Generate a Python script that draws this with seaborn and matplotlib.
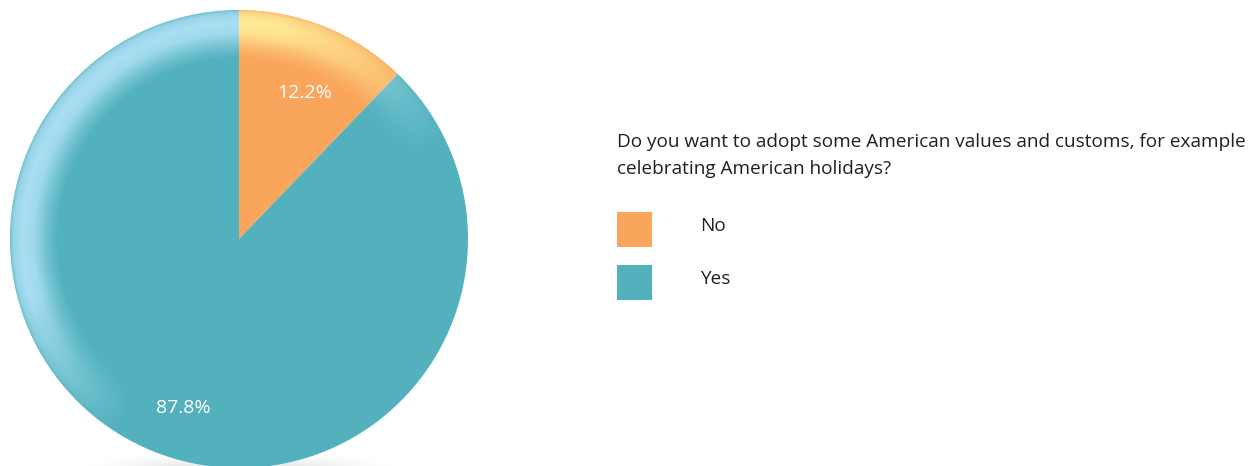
import numpy as np
import matplotlib
matplotlib.use("Agg")
import matplotlib.pyplot as plt
import seaborn as sns
from matplotlib.patches import Rectangle, Wedge
from matplotlib.legend_handler import HandlerPatch

# Survey answers
answers = ["No", "Yes"]
shares = [12.2, 87.8]
slice_colors = ["#f9a55b", "#52b1bd"]
glint_colors = ["#feeb96", "#aadff3"]
question_lines = [
    "Do you want to adopt some American values and customs, for example",
    "celebrating American holidays?",
]

sns.set_theme(style="white")
plt.rcParams["font.family"] = ["Open Sans", "DejaVu Sans"]

W, H = 1258, 466
DPI = 100
fig = plt.figure(figsize=(W / DPI, H / DPI), dpi=DPI)
fig.patch.set_facecolor("white")

# Pie axes: centre (239, 239) px from the top-left, radius 229 px
cx, cy, R = 239, 239, 229
ax = fig.add_axes([(cx - R) / W, (H - cy - R) / H, 2 * R / W, 2 * R / H])
wedges, _ = ax.pie(
    shares,
    colors=slice_colors,
    startangle=90,
    counterclock=False,
    radius=1.0,
    wedgeprops=dict(linewidth=0, antialiased=True),
)
for w in wedges:
    w.set_clip_on(False)
    w.set_zorder(2)

# Glossy rim on the upper-left side of the disc
n = 900
g = np.linspace(-1, 1, n)
X, Y = np.meshgrid(g, g)
rr = np.hypot(X, Y)
ang = np.degrees(np.arctan2(Y, X)) % 360
rim = 1 - rr
radial = np.interp(rim, [0, 0.015, 0.05, 0.10, 0.16, 0.21], [0.45, 0.8, 1.0, 0.9, 0.35, 0.0])
angular = np.interp(ang, [0, 25, 80, 195, 238, 360], [0, 0, 1, 1, 0, 0])
alpha = radial * angular
alpha[rr > 1] = 0
for w, gc in zip(wedges, glint_colors):
    img = np.zeros((n, n, 4))
    img[..., :3] = matplotlib.colors.to_rgb(gc)
    img[..., 3] = alpha
    im = ax.imshow(img, extent=(-1, 1, -1, 1), origin="lower",
                   interpolation="bilinear", zorder=3)
    im.set_clip_path(w)

# Soft shadow under the disc
sx = np.linspace(-0.8, 0.8, 400)
sy = np.linspace(-1.0, -0.9, 60)
SX, SY = np.meshgrid(sx, sy)
shade = 0.10 * np.exp(-(SX / 0.5) ** 4) * np.exp(-((SY + 1.01) / 0.045) ** 2)
simg = np.zeros((60, 400, 4))
simg[..., 3] = shade
ax.imshow(simg, extent=(-0.8, 0.8, -1.0, -0.9), origin="lower",
          interpolation="bilinear", zorder=1)

ax.set_xlim(-1, 1)
ax.set_ylim(-1, 1)
ax.set_aspect("auto")
ax.axis("off")

# Percentage labels inside each slice (radius as a fraction, small angular nudge)
label_radius = [0.70, 0.777]
label_turn = [-2.3, 3.7]
for share, w, lr, lt in zip(shares, wedges, label_radius, label_turn):
    mid = np.radians((w.theta1 + w.theta2) / 2 + lt)
    ax.text(lr * np.cos(mid), lr * np.sin(mid), f"{share:.1f}%",
            color="white", fontsize=14, ha="center", va="center", zorder=5)

# Question text
text_size = 13.7
text_color = "#231f20"
for line, base in zip(question_lines, [147, 174]):
    fig.text(617 / W, 1 - base / H, line, fontsize=text_size, color=text_color,
             ha="left", va="baseline")

# Legend with square swatches
F = text_size
fpx = F * DPI / 72
side = 35
lift = 16 * 72 / DPI


def square(legend, orig_handle, xdescent, ydescent, width, height, fontsize):
    return Rectangle((-xdescent, -lift), width, width)


hh = side / fpx
descent_px = 0.35 * fpx * (hh - 0.7)
box_px = side - descent_px
top_px = 231 - (side - 2 * descent_px)
leg = fig.legend(
    wedges, answers,
    loc="upper left",
    bbox_to_anchor=(617 / W, 1 - top_px / H),
    bbox_transform=fig.transFigure,
    frameon=False,
    fontsize=F,
    handlelength=hh,
    handleheight=hh,
    handletextpad=48 / fpx,
    labelspacing=(53 - box_px) / fpx,
    borderpad=0,
    borderaxespad=0,
    handler_map={Wedge: HandlerPatch(patch_func=square)},
)
for t in leg.get_texts():
    t.set_color(text_color)

fig.savefig("out.png", dpi=DPI, facecolor="white")
